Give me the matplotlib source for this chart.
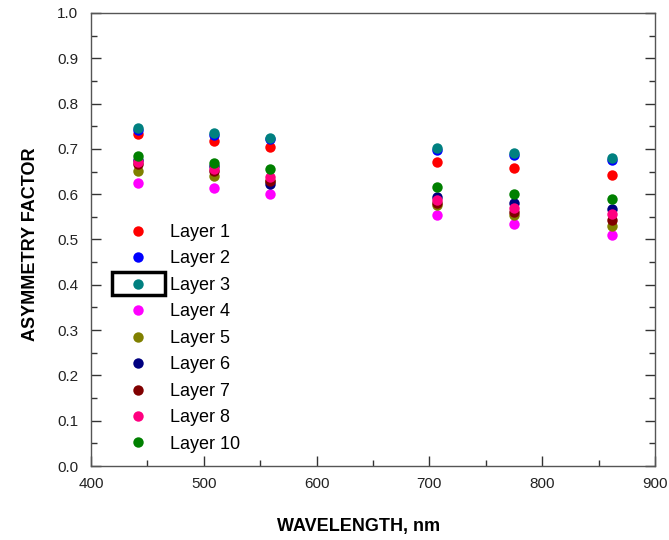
import numpy as np
import matplotlib.pyplot as plt
from matplotlib.patches import Rectangle
from matplotlib.ticker import MultipleLocator

wavelength = [442, 509, 559, 707, 775, 862]

layer_names = ['Layer 1', 'Layer 2', 'Layer 3', 'Layer 4', 'Layer 5',
               'Layer 6', 'Layer 7', 'Layer 8', 'Layer 10']
layer_colors = ['#ff0000', '#0000ff', '#008080', '#ff00ff', '#808000',
                '#000080', '#800000', '#ff0080', '#008000']

g_layer1 = [0.732, 0.718, 0.705, 0.671, 0.657, 0.642]
g_layer2 = [0.741, 0.731, 0.722, 0.698, 0.687, 0.675]
g_layer3 = [0.746, 0.736, 0.724, 0.703, 0.692, 0.679]
g_layer4 = [0.625, 0.614, 0.601, 0.555, 0.535, 0.509]
g_layer5 = [0.651, 0.640, 0.628, 0.576, 0.554, 0.530]
g_layer6 = [0.676, 0.662, 0.622, 0.593, 0.580, 0.567]
g_layer7 = [0.666, 0.652, 0.630, 0.580, 0.561, 0.543]
g_layer8 = [0.672, 0.656, 0.639, 0.587, 0.569, 0.556]
g_layer10 = [0.685, 0.669, 0.656, 0.615, 0.600, 0.589]

layers = [g_layer1, g_layer2, g_layer3, g_layer4, g_layer5,
          g_layer6, g_layer7, g_layer8, g_layer10]

plt.rcParams['font.family'] = ['Liberation Sans', 'DejaVu Sans']

fig = plt.figure(figsize=(6.69, 5.4), dpi=100)
ax = fig.add_axes([0.136, 0.137, 0.843, 0.839])

for name, color, vals in zip(layer_names, layer_colors, layers):
    ax.plot(wavelength, vals, 'o', color=color, markersize=7.5,
            markeredgewidth=0, label=name)

ax.set_xlim(400, 900)
ax.set_ylim(0.0, 1.0)
ax.xaxis.set_major_locator(MultipleLocator(100))
ax.xaxis.set_minor_locator(MultipleLocator(50))
ax.yaxis.set_major_locator(MultipleLocator(0.1))
ax.yaxis.set_minor_locator(MultipleLocator(0.05))
ax.yaxis.set_major_formatter(plt.FuncFormatter(lambda v, p: f'{v:.1f}'))
ax.tick_params(which='both', direction='in', right=True, top=False,
               width=1, color='#333333')
ax.tick_params(which='major', length=7, labelsize=11)
ax.tick_params(axis='x', which='major', pad=8)
ax.tick_params(axis='y', which='major', pad=9)
ax.tick_params(which='minor', length=4)
for lab in ax.get_xticklabels() + ax.get_yticklabels():
    lab.set_color('#222222')
for sp in ax.spines.values():
    sp.set_color('#555555')
    sp.set_linewidth(1)

ax.set_xlabel('WAVELENGTH, nm', fontsize=13, fontweight='bold')
ax.xaxis.set_label_coords(0.475, -0.115)
ax.set_ylabel('ASYMMETRY FACTOR', fontsize=13, fontweight='bold')
ax.yaxis.set_label_coords(-0.092, 0.49)

leg = ax.legend(loc='upper left', bbox_to_anchor=(0.171, 0.602),
                bbox_transform=fig.transFigure, frameon=False,
                fontsize=13, handlelength=1.6, handletextpad=0.97,
                labelspacing=0.525, borderpad=0)

fig.patches.append(Rectangle((112 / 669, 1 - 295 / 540), 53 / 669, 23 / 540,
                             transform=fig.transFigure, fill=False,
                             edgecolor='black', linewidth=2.5, zorder=5))

fig.savefig('out.png', dpi=100)
